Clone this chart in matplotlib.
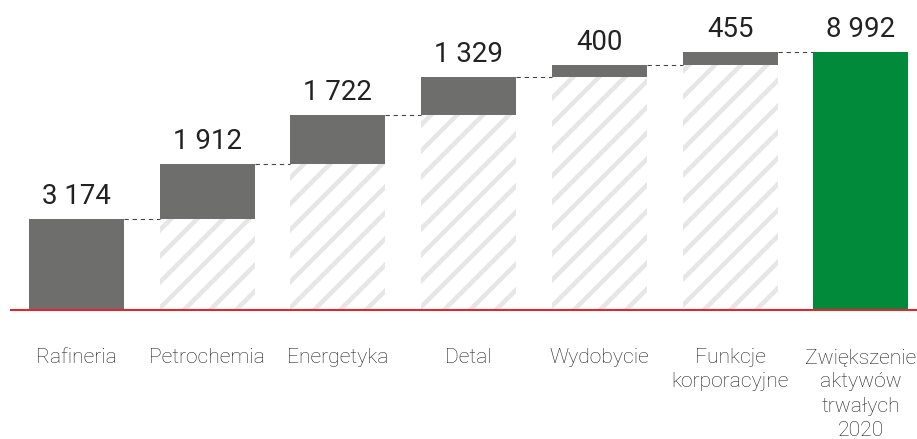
import matplotlib
matplotlib.use("Agg")
import matplotlib.pyplot as plt
import numpy as np

categories = ["Rafineria", "Petrochemia", "Energetyka", "Detal", "Wydobycie",
              "Funkcje\nkorporacyjne", "Zwiększenie\naktywów\ntrwałych\n2020"]
increments = [3174, 1912, 1722, 1329, 400, 455]
total = 8992
value_labels = ["3 174", "1 912", "1 722", "1 329", "400", "455", "8 992"]

GRAY = "#6e6e6d"
GREEN = "#008a3a"
RED = "#e3262e"
HATCH = "#e6e6e6"
TEXT = "#222222"

DPI = 78
plt.rcParams["font.family"] = ["Roboto", "DejaVu Sans"]
plt.rcParams["hatch.linewidth"] = 4.2
plt.rcParams["hatch.color"] = HATCH

fig = plt.figure(figsize=(917 / DPI, 439 / DPI), dpi=DPI)
ax = fig.add_axes([11 / 917, 129 / 439, 906 / 917, 310 / 439])

x = np.arange(len(categories))
width = 0.726
bases = np.concatenate([[0], np.cumsum(increments)[:-1]])
tops = np.cumsum(increments)

# hatched base for the floating bars
for i in range(1, len(increments)):
    ax.bar(x[i], bases[i], width=width, bottom=0, color="white",
           edgecolor=HATCH, hatch="/", linewidth=0, zorder=1)
# gray increments
ax.bar(x[:len(increments)], increments, width=width, bottom=bases,
       color=GRAY, linewidth=0, zorder=2)
# total bar
ax.bar(x[-1], total, width=width, color=GREEN, linewidth=0, zorder=2)

# connectors
levels = list(tops)
for i in range(len(categories) - 1):
    ax.plot([x[i] + width / 2, x[i + 1] - width / 2], [levels[i], levels[i]],
            color="#444444", lw=1.0, ls=(0, (4, 3.5)), zorder=3)

# value labels
heights = list(tops) + [total]
for i, lab in enumerate(value_labels):
    ax.annotate(lab, (x[i], heights[i]), xytext=(0, 8), textcoords="offset points",
                ha="center", va="bottom", fontsize=25.5, color=TEXT)

ax.axhline(0, color=RED, lw=1.9, zorder=5, clip_on=False)

ax.set_xlim(-0.5, (917 - 76) / 130.8)
ax.set_ylim(0, 8992 * 310 / 258)
ax.set_xticks(x)
ax.set_xticklabels(categories, fontsize=19.5, color="#222222", linespacing=1.36,
                   fontweight="light")
ax.tick_params(axis="x", length=0, pad=35)
ax.set_yticks([])
for s in ax.spines.values():
    s.set_visible(False)

fig.savefig("out.png", dpi=DPI)
